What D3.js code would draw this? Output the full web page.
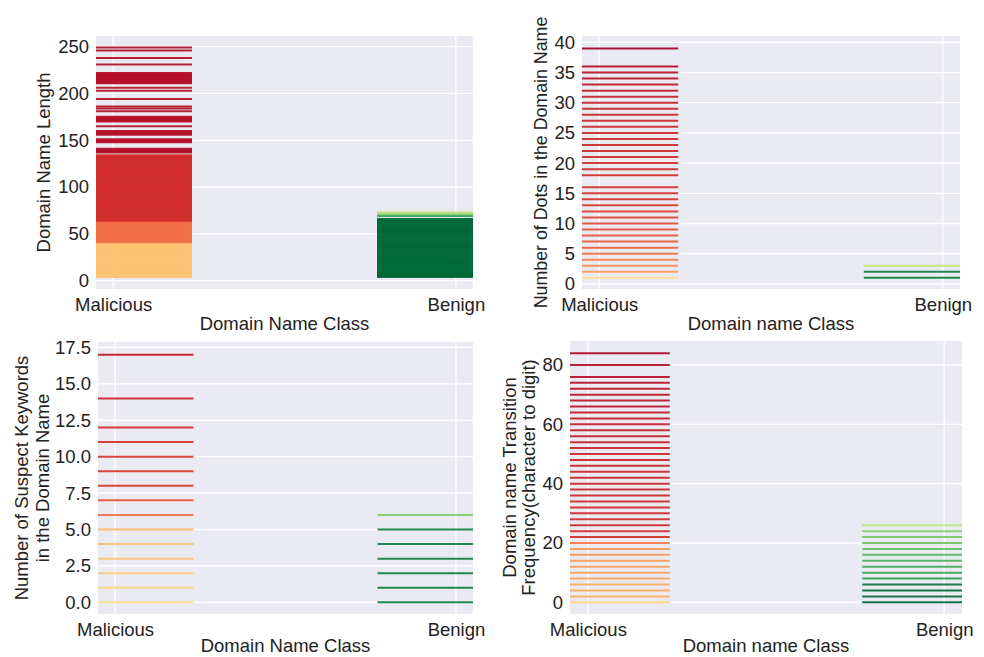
<!DOCTYPE html>
<html>
<head>
<meta charset="utf-8">
<script src="https://d3js.org/d3.v7.min.js"></script>
<style>
    body { margin: 0; background: #fff; }
    text { font-family: "Liberation Sans", Arial, sans-serif; fill: #222; }
</style>
</head>
<body>
<div id="chart"></div>
<script>
// class names on every x axis
const classes = ["Malicious", "Benign"];

// Domain Name Length (one line per distinct value seen)
const lengthMalicious = [4,5,6,7,8,9,10,11,12,13,14,15,16,17,18,19,20,21,22,23,24,25,26,27,28,29,30,
    31,32,33,34,35,36,37,38,39,40,41,42,43,44,45,46,47,48,49,50,51,52,53,54,55,56,57,58,59,60,
    61,62,63,64,65,66,67,68,69,70,71,72,73,74,75,76,77,78,79,80,81,82,83,84,85,86,87,88,89,90,
    91,92,93,94,95,96,97,98,99,100,101,102,103,104,105,106,107,108,109,110,111,112,113,114,115,
    116,117,118,119,120,121,122,123,124,125,126,127,128,129,130,131,132,133,134,
    137,138,139,140,141,148,149,150,151,156,157,158,159,160,165,170,171,172,173,174,175,
    181,184,186,194,203,206,211,212,213,214,215,216,217,218,219,220,221,222,231,238,246,249];
const lengthBenign = [4,5,6,7,8,9,10,11,12,13,14,15,16,17,18,19,20,21,22,23,24,25,26,27,28,29,30,
    31,32,33,34,35,36,37,38,39,40,41,42,43,44,45,46,47,48,49,50,51,52,53,54,55,56,57,58,59,60,
    61,62,63,64,65,66,69,71,73];

// Number of Dots in the Domain Name
const dotsMalicious = [1,2,3,4,5,6,7,8,9,10,11,12,13,14,15,16,18,19,20,21,22,23,24,25,26,27,28,
    29,30,31,32,33,34,35,36,39];
const dotsBenign = [1,2,3];

// Number of Suspect Keywords in the Domain Name
const keywordsMalicious = [0,1,2,3,4,5,6,7,8,9,10,11,12,14,17];
const keywordsBenign = [0,1,2,3,4,5,6];

// Domain name Transition Frequency (character to digit)
const transMalicious = [0,2,4,6,8,10,12,14,16,18,20,22,24,26,28,30,32,34,36,38,40,42,44,46,48,
    50,52,54,56,58,60,62,64,66,68,70,72,74,76,80,84];
const transBenign = [0,2,4,6,8,10,12,14,16,18,20,22,24,26];

// y tick labels
const lengthTicks = [0,50,100,150,200,250];
const dotsTicks = [0,5,10,15,20,25,30,35,40];
const keywordsTicks = [0,2.5,5,7.5,10,12.5,15,17.5];
const transTicks = [0,20,40,60,80];


/* * * * * * * * * * * * * *
*     class StripVis       *
* * * * * * * * * * * * * */

class StripVis {
    constructor(svg, cfg, malicious, benign) {
        this.svg = svg;
        this.cfg = cfg;
        this.malicious = malicious;
        this.benign = benign;

        this.initVis();
    }

    initVis() {
        let vis = this;
        let c = vis.cfg;

        vis.width = c.right - c.left;
        vis.height = c.bottom - c.top;

        vis.g = vis.svg.append("g")
            .attr("transform", "translate(" + c.left + "," + c.top + ")");

        // scales
        vis.x = d3.scaleLinear().domain([-0.05, 1.05]).range([0, vis.width]);
        vis.y = d3.scaleLinear().domain(c.yDomain).range([vis.height, 0]);

        // seaborn darkgrid background
        vis.g.append("rect")
            .attr("width", vis.width)
            .attr("height", vis.height)
            .attr("fill", "#eaeaf2");

        // grid lines
        vis.g.append("g")
            .selectAll("line.hgrid")
            .data(c.ticks)
            .enter()
            .append("line")
            .attr("x1", 0).attr("x2", vis.width)
            .attr("y1", d => vis.y(d)).attr("y2", d => vis.y(d))
            .attr("stroke", "#fff").attr("stroke-width", 1.3);

        vis.g.append("g")
            .selectAll("line.vgrid")
            .data([0, 1])
            .enter()
            .append("line")
            .attr("x1", d => vis.x(d)).attr("x2", d => vis.x(d))
            .attr("y1", 0).attr("y2", vis.height)
            .attr("stroke", "#fff").attr("stroke-width", 1.3);

        // one horizontal line per value, per class
        let half = 0.23;
        let drawClass = function (values, pos, colorOf) {
            vis.g.append("g")
                .selectAll("line")
                .data(values)
                .enter()
                .append("line")
                .attr("x1", vis.x(Math.max(-0.05, pos - half)))
                .attr("x2", vis.x(Math.min(1.05, pos + half)))
                .attr("y1", d => vis.y(d))
                .attr("y2", d => vis.y(d))
                .attr("stroke", d => d3.interpolateRdYlGn(colorOf(d)))
                .attr("stroke-width", 2)
                .attr("stroke-opacity", 0.92);
        };
        drawClass(vis.malicious, 0, c.malColor);
        drawClass(vis.benign, 1, c.benColor);

        // y axis
        vis.yAxis = vis.g.append("g")
            .call(d3.axisLeft(vis.y).tickValues(c.ticks).tickSize(0).tickPadding(7).tickFormat(c.format));
        vis.yAxis.select(".domain").remove();

        // x axis
        vis.xAxis = vis.g.append("g")
            .attr("transform", "translate(0," + vis.height + ")")
            .call(d3.axisBottom(vis.x).tickValues([0, 1]).tickSize(0).tickPadding(9)
                .tickFormat((d, i) => classes[i]));
        vis.xAxis.select(".domain").remove();

        vis.g.selectAll(".tick text")
            .style("font-size", "18.5px")
            .style("font-family", "'Liberation Sans', Arial, sans-serif")
            .attr("fill", "#222");

        // axis titles
        vis.g.append("text")
            .attr("x", vis.width / 2)
            .attr("y", vis.height + c.xLabelGap)
            .attr("text-anchor", "middle")
            .style("font-size", "18.5px")
            .text(c.xLabel);

        c.yLabel.forEach(function (line, i) {
            vis.g.append("text")
                .attr("transform", "translate(" + (c.yLabelX[i] - c.left) + "," + (vis.height / 2) + ") rotate(-90)")
                .attr("text-anchor", "middle")
                .style("font-size", c.yLabelSize || "18.5px")
                .text(line);
        });
    }
}

let svg = d3.select("#chart")
    .append("svg")
    .attr("width", 984)
    .attr("height", 657);

new StripVis(svg, {
    left: 96, right: 473, top: 36, bottom: 289,
    yDomain: [-8.9, 261.4], ticks: lengthTicks, format: d3.format("d"),
    xLabel: "Domain Name Class", xLabelGap: 41, yLabel: ["Domain Name Length"], yLabelX: [50],
    malColor: d3.scaleThreshold().domain([41, 64, 137]).range([0.34, 0.2, 0.09, 0.03]),
    benColor: d3.scaleLinear().domain([66, 69, 71, 73]).range([1.0, 0.88, 0.75, 0.65]).clamp(true)
}, lengthMalicious, lengthBenign);

new StripVis(svg, {
    left: 582, right: 960, top: 36, bottom: 289,
    yDomain: [-0.85, 41.05], ticks: dotsTicks, format: d3.format("d"),
    xLabel: "Domain name Class", xLabelGap: 41, yLabel: ["Number of Dots in the Domain Name"], yLabelX: [547],
    yLabelSize: "17.8px",
    malColor: d3.scaleLinear().domain([1, 2, 6, 14, 30, 39]).range([0.4, 0.27, 0.18, 0.1, 0.07, 0.0]).clamp(true),
    benColor: d3.scaleLinear().domain([2, 3]).range([0.95, 0.65]).clamp(true)
}, dotsMalicious, dotsBenign);

new StripVis(svg, {
    left: 98, right: 473, top: 342, bottom: 614,
    yDomain: [-0.8, 17.87], ticks: keywordsTicks, format: d3.format(".1f"),
    xLabel: "Domain Name Class", xLabelGap: 38, yLabel: ["Number of Suspect Keywords", "in the Domain Name"], yLabelX: [28, 49],
    malColor: d3.scaleLinear().domain([0, 1, 5, 6, 8, 12, 17]).range([0.4, 0.37, 0.32, 0.2, 0.11, 0.09, 0.05]).clamp(true),
    benColor: d3.scaleLinear().domain([5, 6]).range([0.95, 0.75]).clamp(true)
}, keywordsMalicious, keywordsBenign);

new StripVis(svg, {
    left: 570, right: 962, top: 341, bottom: 614,
    yDomain: [-3.94, 88.1], ticks: transTicks, format: d3.format("d"),
    xLabel: "Domain name Class", xLabelGap: 38, yLabel: ["Domain name Transition", "Frequency(character to digit)"], yLabelX: [516, 535],
    malColor: d3.scaleLinear().domain([0, 2, 18, 20, 22, 52, 84]).range([0.38, 0.3, 0.26, 0.22, 0.09, 0.07, 0.02]).clamp(true),
    benColor: d3.scaleLinear().domain([0, 6, 8, 24, 26]).range([1.0, 0.97, 0.88, 0.75, 0.65]).clamp(true)
}, transMalicious, transBenign);
</script>
</body>
</html>
